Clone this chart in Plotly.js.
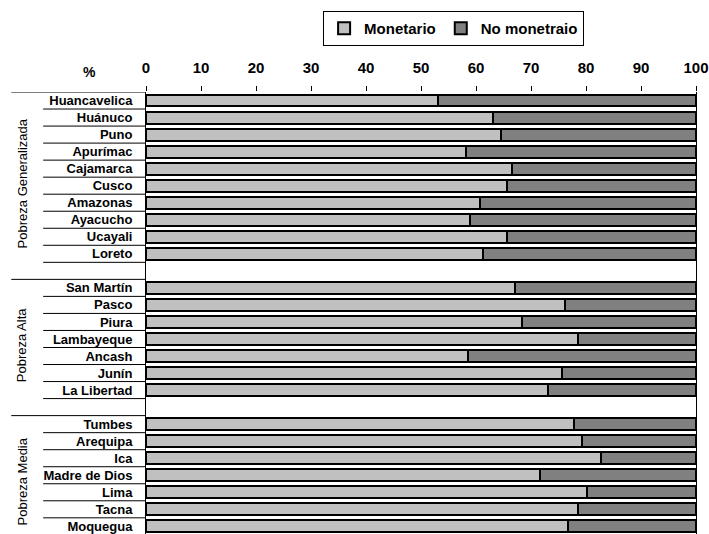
<!DOCTYPE html>
<html>
<head>
<meta charset="utf-8">
<script src="https://cdn.plot.ly/plotly-3.0.1.min.js"></script>
<style>html,body{margin:0;padding:0;background:#fff;}#chart{width:709px;height:534px;}</style>
</head>
<body>
<div id="chart"></div>
<script>
// ---- Data ----
const groupNames = ['Pobreza Generalizada', 'Pobreza Alta', 'Pobreza Media'];

const catsGeneralizada = ['Huancavelica', 'Huánuco', 'Puno', 'Apurímac', 'Cajamarca', 'Cusco', 'Amazonas', 'Ayacucho', 'Ucayali', 'Loreto'];
const monGeneralizada   = [53.1, 63.0, 64.5, 58.1, 66.5, 65.7, 60.8, 58.9, 65.6, 61.2];
const noMonGeneralizada = [46.9, 37.0, 35.5, 41.9, 33.5, 34.3, 39.2, 41.1, 34.4, 38.8];

const catsAlta = ['San Martín', 'Pasco', 'Piura', 'Lambayeque', 'Ancash', 'Junín', 'La Libertad'];
const monAlta   = [67.1, 76.1, 68.3, 78.5, 58.5, 75.6, 73.1];
const noMonAlta = [32.9, 23.9, 31.7, 21.5, 41.5, 24.4, 26.9];

const catsMedia = ['Tumbes', 'Arequipa', 'Ica', 'Madre de Dios', 'Lima', 'Tacna', 'Moquegua'];
const monMedia   = [77.8, 79.3, 82.8, 71.6, 80.2, 78.5, 76.8];
const noMonMedia = [22.2, 20.7, 17.2, 28.4, 19.8, 21.5, 23.2];

const xTickVals = [0, 10, 20, 30, 40, 50, 60, 70, 80, 90, 100];
const seriesNames = ['Monetario', 'No monetraio'];

// ---- Build positions (one empty slot between groups) ----
const groupCats = [catsGeneralizada, catsAlta, catsMedia];
const groupMon = [monGeneralizada, monAlta, monMedia];
const groupNoMon = [noMonGeneralizada, noMonAlta, noMonMedia];

const yPos = [], labels = [], mon = [], noMon = [];
const shapes = [], annotations = [];
const FONT = 'Liberation Sans Narrow, Arial Narrow, Liberation Sans, Arial, sans-serif';
const LONG_X = -0.245, SHORT_X = -0.187;
let slot = 0;
groupCats.forEach((cats, g) => {
  const first = slot;
  shapes.push({type: 'line', xref: 'paper', yref: 'y', x0: LONG_X, x1: 0, y0: first - 0.5, y1: first - 0.5,
               line: {color: '#000', width: 1}});
  cats.forEach((c, i) => {
    yPos.push(slot); labels.push(c);
    mon.push(groupMon[g][i]); noMon.push(groupNoMon[g][i]);
    shapes.push({type: 'line', xref: 'paper', yref: 'y', x0: SHORT_X, x1: 0, y0: slot + 0.5, y1: slot + 0.5,
                 line: {color: '#000', width: 1}});
    slot++;
  });
  const last = slot - 1;
  annotations.push({text: groupNames[g], xref: 'paper', yref: 'y', x: -0.225, y: (first + last) / 2 + 0.35,
                    textangle: -90, showarrow: false, xanchor: 'center', yanchor: 'middle',
                    font: {family: FONT, size: 13, color: '#000'}});
  slot++; // empty gap slot
});
annotations.push({text: '%', xref: 'paper', yref: 'paper', x: -0.102, y: 1.045, showarrow: false,
                  xanchor: 'center', yanchor: 'middle', font: {family: FONT, size: 14, weight: 'bold', color: '#000'}});

const traces = [
  {type: 'bar', orientation: 'h', name: seriesNames[0], x: mon, y: yPos, width: 0.7,
   marker: {color: '#C0C0C0', line: {color: '#000', width: 2}}, hoverinfo: 'x+name'},
  {type: 'bar', orientation: 'h', name: seriesNames[1], x: noMon, y: yPos, width: 0.7,
   marker: {color: '#808080', line: {color: '#000', width: 2}}, hoverinfo: 'x+name'}
];

const layout = {
  width: 709, height: 534,
  margin: {l: 146, r: 13, t: 92, b: 0, pad: 0},
  paper_bgcolor: '#fff', plot_bgcolor: '#fff',
  barmode: 'stack',
  showlegend: true,
  legend: {orientation: 'h', traceorder: 'normal', x: 0.322, y: 1.183, xanchor: 'left', yanchor: 'top',
           bordercolor: '#000', borderwidth: 1, bgcolor: '#fff', itemwidth: 30,
           font: {family: FONT, size: 15, weight: 'bold', color: '#000'}},
  xaxis: {side: 'top', range: [0, 100], tickvals: xTickVals, ticks: 'outside', ticklen: 5,
          tickcolor: '#000', tickwidth: 1, showgrid: false, zeroline: false, showline: false,
          ticklabeloverflow: 'allow', ticklabelstandoff: 7,
          tickfont: {family: FONT, size: 15, weight: 'bold', color: '#000'}, automargin: false, fixedrange: true},
  yaxis: {range: [25.45, -0.5], tickvals: yPos, ticktext: labels, ticks: '', showgrid: false,
          zeroline: false, showline: true, mirror: true, linecolor: '#000', linewidth: 1,
          ticklabelstandoff: 10, ticklabeloverflow: 'allow', automargin: false, fixedrange: true,
          tickfont: {family: FONT, size: 13, weight: 'bold', color: '#000'}},
  shapes: shapes,
  annotations: annotations
};

Plotly.newPlot('chart', traces, layout, {displayModeBar: false, staticPlot: true});
</script>
</body>
</html>
